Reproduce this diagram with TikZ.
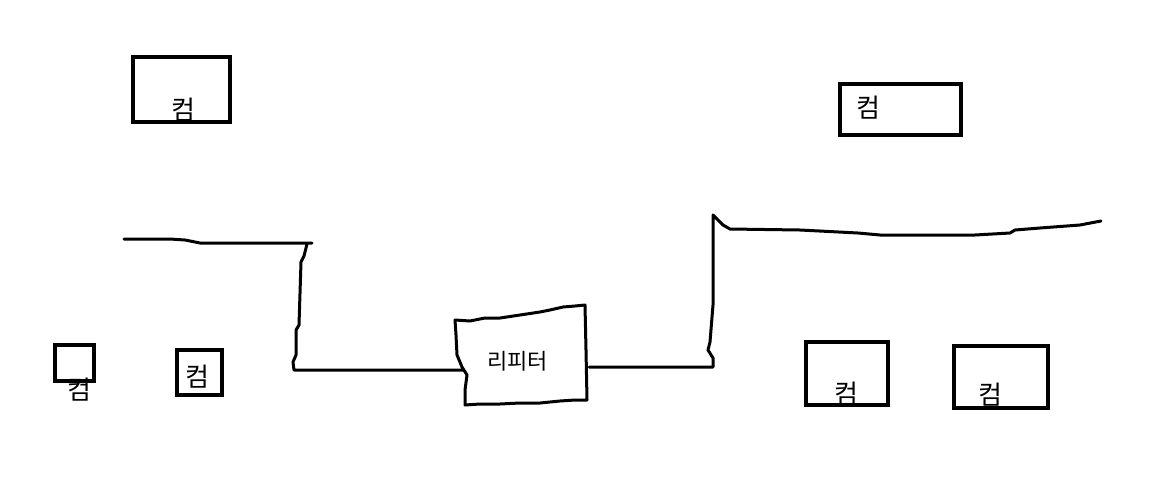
\documentclass[tikz,border=0pt]{standalone}
\usepackage{fontspec}
\newfontfamily\kor{Noto Sans CJK KR}

\begin{document}
\begin{tikzpicture}[x=1pt,y=-1pt,line width=4.5pt,
    comp/.style={draw,rectangle,inner sep=0pt},
    lbl/.style={font=\kor\fontsize{26}{26}\selectfont,inner sep=0pt},
    wire/.style={line width=3pt,line join=round,line cap=round}]
    \useasboundingbox[fill=white] (0,0) rectangle (1168,483);

    \node[comp,minimum width=97,minimum height=65] (pc1) at (181.5,89.5) {};
    \node[comp,minimum width=121,minimum height=51] (pc2) at (900.5,109.5) {};
    \node[comp,minimum width=39,minimum height=36] (pc3) at (74.5,363) {};
    \node[comp,minimum width=45,minimum height=45] (pc4) at (199.5,372.5) {};
    \node[comp,minimum width=82,minimum height=63] (pc5) at (847,373.5) {};
    \node[comp,minimum width=94,minimum height=62] (pc6) at (1001,377) {};

    \node[lbl] (t1) at (183.5,110) {컴};
    \node[lbl] (t2) at (868,108) {컴};
    \node[lbl] (t3) at (79,390) {컴};
    \node[lbl] (t4) at (197,377) {컴};
    \node[lbl] (t5) at (846,394) {컴};
    \node[lbl] (t6) at (990,395) {컴};

    \node[minimum width=121,minimum height=90,inner sep=0pt] (rep) at (526.5,359) {};
    \node[lbl,font=\kor\fontsize{22}{22}\selectfont] (t7) at (517.5,361) {리피터};
    \draw[wire] (455,320) -- (470,321) -- (485,318) -- (500,318) -- (520,315)
        -- (540,312) -- (550,310) -- (563,307) -- (575,306) -- (585,305)
        -- (586,350) -- (587,400) -- (575,400) -- (560,401) -- (540,403)
        -- (520,403) -- (500,404) -- (480,404) -- (465,405) -- (465,390)
        -- (467,375) -- (462,367) -- (457,355) -- (456,335) -- cycle;

    \coordinate (lend) at (124,239);
    \coordinate (rend) at (1101,221);
    \draw[wire] (lend) -- (170,239) -- (185,240) -- (200,243) -- (312,243)
        (307,244) -- (304,256) -- (301,262) -- (299,325) -- (296,330)
        -- (296,355) -- (293,362) -- (294,370) -- (300,370)
        -- ([yshift=-11]rep.west);
    \draw[wire] ([yshift=-8]rep.east) -- (713,367) -- (713,358) -- (708,350)
        -- (710,342) -- (713,305) -- (713,215) -- (718,220) -- (723,225)
        -- (730,229) -- (800,230) -- (858,233) -- (880,235) -- (975,235)
        -- (1010,233) -- (1015,230) -- (1040,228) -- (1080,225) -- (rend);
\end{tikzpicture}
\end{document}
